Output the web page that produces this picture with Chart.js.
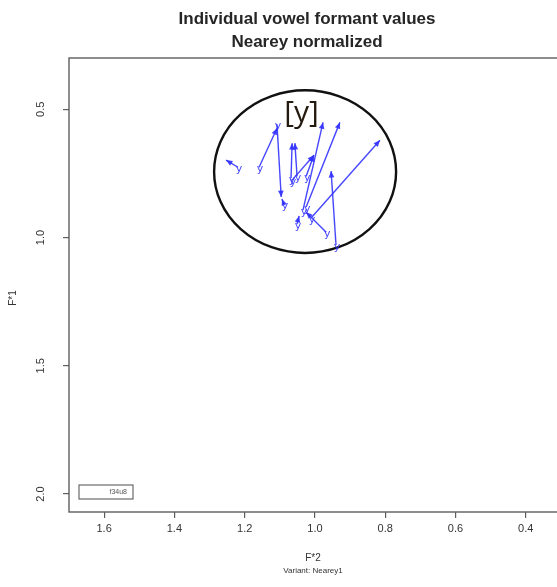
<!DOCTYPE html>
<html>
<head>
<meta charset="utf-8">
<script src="https://cdn.jsdelivr.net/npm/chart.js@4/dist/chart.umd.min.js"></script>
<style>
  html, body { margin: 0; padding: 0; background: #fff; overflow: hidden; }
  #wrap { width: 557px; height: 587px; overflow: hidden; position: relative; }
  canvas { display: block; }
</style>
</head>
<body>
<div id="wrap"><canvas id="chart" width="600" height="587"></canvas></div>
<script>
// Plot text
const titleLines = ['Individual vowel formant values', 'Nearey normalized'];
const xAxisTitle = 'F*2';
const variantNote = 'Variant: Nearey1';
const yAxisTitle = 'F*1';
const legendText = 'f34u8';
const vowelLabel = '[y]';
const tokenGlyph = 'y';

// Tick values
const xTickValues = [1.6, 1.4, 1.2, 1.0, 0.8, 0.6, 0.4];
const yTickValues = [0.5, 1.0, 1.5, 2.0];

// Token trajectories: onset (F*2, F*1) -> offset (F*2, F*1)
const onsetF2  = [1.219, 1.159, 1.108, 1.088, 1.068, 1.051, 1.065, 1.025, 1.034, 1.025, 1.011, 0.968, 0.940, 1.051];
const onsetF1  = [0.726, 0.726, 0.558, 0.870, 0.768, 0.761, 0.776, 0.761, 0.893, 0.881, 0.924, 0.979, 1.029, 0.947];
const offsetF2 = [1.253, 1.108, 1.096, 1.094, 1.065, 1.057, 1.003, 1.003, 0.977, 0.929, 0.815, 1.025, 0.954, 1.045];
const offsetF1 = [0.698, 0.574, 0.842, 0.850, 0.632, 0.632, 0.679, 0.679, 0.551, 0.551, 0.621, 0.901, 0.741, 0.916];

// Vowel ellipse (centre and radii in normalized units) and label position
const ellipseCentre = [1.028, 0.743];
const ellipseRadii = [0.259, 0.317];
const vowelLabelPos = [1.038, 0.518];

const tokenColor = 'rgba(50, 50, 255, 0.9)';
const axisColor = '#5e5e5e';
const textColor = '#262626';

const datasets = onsetF2.map((_, i) => ({
  label: 'token ' + (i + 1),
  data: [
    { x: onsetF2[i], y: onsetF1[i] },
    { x: offsetF2[i], y: offsetF1[i] }
  ],
  showLine: true,
  borderColor: tokenColor,
  backgroundColor: tokenColor,
  borderWidth: 1.4,
  pointRadius: 0,
  isToken: true
}));

// Ellipse around the vowel's tokens, sized through the scales
const ellipsePlugin = {
  id: 'vowelEllipse',
  beforeDatasetsDraw(chart) {
    const { ctx, scales: { x, y } } = chart;
    const cx = x.getPixelForValue(ellipseCentre[0]);
    const cy = y.getPixelForValue(ellipseCentre[1]);
    const rx = Math.abs(x.getPixelForValue(ellipseCentre[0] + ellipseRadii[0]) - cx);
    const ry = Math.abs(y.getPixelForValue(ellipseCentre[1] + ellipseRadii[1]) - cy);
    ctx.save();
    ctx.strokeStyle = '#111';
    ctx.lineWidth = 2.4;
    ctx.beginPath();
    ctx.ellipse(cx, cy, rx, ry, 0, 0, Math.PI * 2);
    ctx.stroke();
    ctx.restore();
  }
};

// Arrowheads at offsets, glyphs at onsets
const arrowPlugin = {
  id: 'tokenArrows',
  afterDatasetsDraw(chart) {
    const ctx = chart.ctx;
    chart.data.datasets.forEach((ds, i) => {
      if (!ds.isToken) return;
      const pts = chart.getDatasetMeta(i).data;
      const a = pts[0], b = pts[1];
      const ang = Math.atan2(b.y - a.y, b.x - a.x);
      const len = 7, spread = 0.42;
      ctx.save();
      ctx.fillStyle = tokenColor;
      ctx.beginPath();
      ctx.moveTo(b.x, b.y);
      ctx.lineTo(b.x - len * Math.cos(ang - spread), b.y - len * Math.sin(ang - spread));
      ctx.lineTo(b.x - len * Math.cos(ang + spread), b.y - len * Math.sin(ang + spread));
      ctx.closePath();
      ctx.fill();
      ctx.font = '11px "DejaVu Sans"';
      ctx.textAlign = 'center';
      ctx.textBaseline = 'middle';
      ctx.fillText(tokenGlyph, a.x + 1, a.y + 2);
      ctx.restore();
    });
  }
};

// Frame, title, axis titles, rotated y tick labels, legend box, vowel label
const decorPlugin = {
  id: 'decor',
  afterDraw(chart) {
    const { ctx, chartArea: ca, scales: { x, y } } = chart;
    ctx.save();
    // plot frame
    ctx.strokeStyle = axisColor;
    ctx.lineWidth = 1.4;
    ctx.strokeRect(ca.left, ca.top, ca.right - ca.left, ca.bottom - ca.top);

    // title
    ctx.fillStyle = textColor;
    ctx.textAlign = 'center';
    ctx.textBaseline = 'middle';
    ctx.font = 'bold 17px "Liberation Sans"';
    ctx.fillText(titleLines[0], 307, 19);
    ctx.fillText(titleLines[1], 307, 42);

    // y tick labels, rotated as in base graphics
    ctx.font = '11px "Liberation Sans"';
    ctx.fillStyle = '#333';
    yTickValues.forEach(v => {
      const py = y.getPixelForValue(v);
      ctx.save();
      ctx.translate(41, py);
      ctx.rotate(-Math.PI / 2);
      ctx.fillText(v.toFixed(1), 0, 0);
      ctx.restore();
    });

    // axis titles
    ctx.font = '10px "Liberation Sans"';
    ctx.fillText(xAxisTitle, 313, 558);
    ctx.font = '8px "Liberation Sans"';
    ctx.fillText(variantNote, 313, 571);
    ctx.save();
    ctx.font = '10px "Liberation Sans"';
    ctx.translate(13, 298);
    ctx.rotate(-Math.PI / 2);
    ctx.fillText(yAxisTitle, 0, 0);
    ctx.restore();

    // legend box
    ctx.strokeStyle = '#6a6a6a';
    ctx.lineWidth = 1.2;
    ctx.strokeRect(ca.left + 10, ca.bottom - 27, 54, 14);
    ctx.font = '7px "Liberation Sans"';
    ctx.fillStyle = '#555';
    ctx.textAlign = 'right';
    ctx.fillText(legendText, ca.left + 58, ca.bottom - 20);

    // vowel label
    ctx.font = '30px "Open Sans"';
    ctx.fillStyle = '#241a10';
    ctx.textAlign = 'center';
    ctx.fillText(vowelLabel, x.getPixelForValue(vowelLabelPos[0]), y.getPixelForValue(vowelLabelPos[1]));
    ctx.restore();
  }
};

new Chart(document.getElementById('chart'), {
  type: 'scatter',
  data: { datasets },
  options: {
    responsive: false,
    devicePixelRatio: 1,
    animation: false,
    layout: { padding: { top: 58, right: 4, bottom: 0, left: 0 } },
    plugins: { legend: { display: false }, tooltip: { enabled: false }, title: { display: false } },
    scales: {
      x: {
        type: 'linear',
        reverse: true,
        min: 0.2,
        max: 1.7,
        afterBuildTicks: s => { s.ticks = xTickValues.map(v => ({ value: v })); },
        afterFit: s => { s.height = 75; },
        border: { display: false },
        grid: { drawOnChartArea: false, drawTicks: true, tickLength: 6, color: axisColor, lineWidth: 1.2 },
        ticks: {
          autoSkip: false,
          maxRotation: 0,
          padding: 4,
          color: '#333',
          font: { family: 'Liberation Sans', size: 11 },
          callback: v => Number(v).toFixed(1)
        }
      },
      y: {
        type: 'linear',
        reverse: true,
        min: 0.30,
        max: 2.07,
        afterBuildTicks: s => { s.ticks = yTickValues.map(v => ({ value: v })); },
        afterFit: s => { s.width = 69; },
        border: { display: false },
        grid: { drawOnChartArea: false, drawTicks: true, tickLength: 6, color: axisColor, lineWidth: 1.2 },
        ticks: { display: false }
      }
    }
  },
  plugins: [ellipsePlugin, arrowPlugin, decorPlugin]
});
</script>
</body>
</html>
